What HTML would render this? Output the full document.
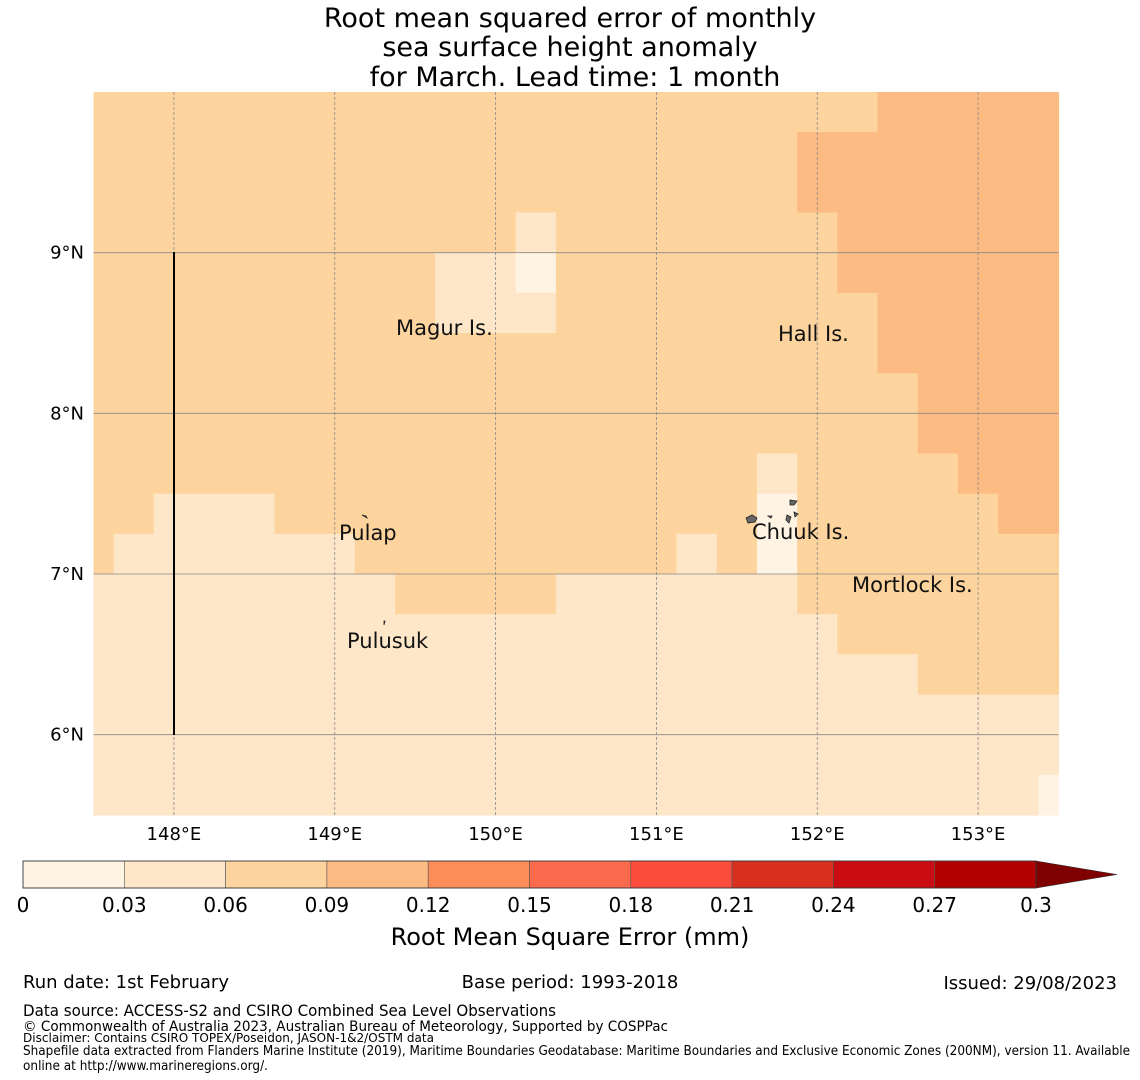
<!DOCTYPE html>
<html><head><meta charset="utf-8"><style>
html,body{margin:0;padding:0;background:#fff;}
svg{display:block;font-family:"DejaVu Sans","Liberation Sans",sans-serif;}
</style></head><body>
<svg id="chart" width="1140" height="1080" viewBox="0 0 1140 1080" xmlns="http://www.w3.org/2000/svg">
<g font-size="27" text-anchor="middle" fill="#000">
<text x="570" y="27">Root mean squared error of monthly</text>
<text x="570" y="56">sea surface height anomaly</text>
<text x="575" y="86">for March. Lead time: 1 month</text>
</g>
<g id="cells"></g>
<g id="grid"></g>
<line x1="174" y1="252" x2="174" y2="735" stroke="#000" stroke-width="2"/>
<g id="xticks" font-size="18" text-anchor="middle"></g>
<g id="yticks" font-size="18" text-anchor="end"></g>
<g font-size="21" fill="#111">
<text x="396" y="335">Magur Is.</text>
<text x="778" y="341">Hall Is.</text>
<text x="339" y="540">Pulap</text>
<text x="752" y="539">Chuuk Is.</text>
<text x="852" y="592">Mortlock Is.</text>
<text x="347" y="648">Pulusuk</text>
</g>
<g fill="#666" stroke="#222" stroke-width="0.8">
<path d="M746 518 l6 -3 l5 3 l-2 4 l-7 1 z"/><path d="M790 500 l7 1 l-3 4 l-4 0 z"/>
<path d="M768 516 l4 0 l-1 2 z"/><path d="M787 515 l4 2 l-2 6 l-3 -3 z"/><path d="M794 512 l4 2 l-3 3 z"/>
<path d="M362 515 l4 1 l1 2 z"/><path d="M384 621 l1 0 l-1 4 z"/>
</g>
<g id="cbar"></g>
<text x="570" y="945" font-size="24" text-anchor="middle">Root Mean Square Error (mm)</text>
<g fill="#000">
<text x="23" y="988" font-size="18">Run date: 1st February</text>
<text x="570" y="988" font-size="18" text-anchor="middle">Base period: 1993-2018</text>
<text x="1117" y="989" font-size="18" text-anchor="end">Issued: 29/08/2023</text>
<text x="23" y="1016" font-size="16" textLength="533" lengthAdjust="spacingAndGlyphs">Data source: ACCESS-S2 and CSIRO Combined Sea Level Observations</text>
<text x="23" y="1031" font-size="14" textLength="645" lengthAdjust="spacingAndGlyphs">© Commonwealth of Australia 2023, Australian Bureau of Meteorology, Supported by COSPPac</text>
<text x="23" y="1042" font-size="12" textLength="411" lengthAdjust="spacingAndGlyphs">Disclaimer: Contains CSIRO TOPEX/Poseidon, JASON-1&amp;2/OSTM data</text>
<text x="23" y="1055" font-size="13" textLength="1107" lengthAdjust="spacingAndGlyphs">Shapefile data extracted from Flanders Marine Institute (2019), Maritime Boundaries Geodatabase: Maritime Boundaries and Exclusive Economic Zones (200NM), version 11. Available</text>
<text x="23" y="1070" font-size="13" textLength="245" lengthAdjust="spacingAndGlyphs">online at http://www.marineregions.org/.</text>
</g>
</svg>
<script>
const lonTicks = [148,149,150,151,152,153];
const latTicks = [9,8,7,6];
const cbTicks = ["0","0.03","0.06","0.09","0.12","0.15","0.18","0.21","0.24","0.27","0.3"];
const levelColors = ["#fff3e3","#fee6c9","#fdd49e","#fdbb84","#fc8d59","#fc6a4d","#fc4c3c","#d7301f","#c90d12","#b30000"];
const overColor = "#7f0000";
// error level per cell; rows from 10N southward in 0.25deg steps, columns centered at 147.5 + 0.25*c
const levelRows = [
"2222222222222222222233333",
"2222222222222222223333333",
"2222222222222222223333333",
"2222222222212222222333333",
"2222222221102222222333333",
"2222222221112222222233333",
"2222222222222222222233333",
"2222222222222222222223333",
"2222222222222222222223333",
"2222222222222222212222333",
"2211122222222222202222233",
"2111111222222221202222222",
"1111111122221111112222222",
"1111111111111111111222222",
"1111111111111111111112222",
"1111111111111111111111111",
"1111111111111111111111111",
"1111111111111111111111110"];
const NS="http://www.w3.org/2000/svg";
const X0=93.5, X1=1058.5, Y0=92, Y1=815, LON0=147.5, LON1=153.5, LAT0=10, LAT1=5.5;
const xs = lon => X0 + (lon-LON0)/(LON1-LON0)*(X1-X0);
const ys = lat => Y0 + (LAT0-lat)/(LAT0-LAT1)*(Y1-Y0);
function mk(tag, attrs, parent){const e=document.createElementNS(NS,tag);for(const k in attrs)e.setAttribute(k,attrs[k]);parent.appendChild(e);return e;}
const cells=document.getElementById('cells');
levelRows.forEach((row,r)=>{
  for(let c=0;c<row.length;c++){
    const lv=+row[c];
    let l=Math.max(xs(LON0+0.25*c-0.125),X0), rr=Math.min(xs(LON0+0.25*c+0.125),X1);
    const t=ys(LAT0-0.25*r), b=ys(LAT0-0.25*(r+1));
    const el=mk('rect',{x:l,y:t,width:rr-l+0.6,height:b-t+0.6,fill:levelColors[lv]},cells);
    
    
  }
});
const grid=document.getElementById('grid'), xt=document.getElementById('xticks'), yt=document.getElementById('yticks');
lonTicks.forEach(lon=>{
  const x=xs(lon);
  const g=mk('line',{x1:x,y1:Y0,x2:x,y2:Y1,stroke:'#888',"stroke-width":0.8,"stroke-dasharray":"3,2"},grid);
  
  
  const t=mk('text',{x:x,y:840},xt); t.textContent=lon+"°E";
  
  
});
latTicks.forEach(lat=>{
  const y=ys(lat);
  const g=mk('line',{x1:X0,y1:y,x2:X1,y2:y,stroke:'#888',"stroke-width":0.8},grid);
  
  
  const t=mk('text',{x:84,y:y+6},yt); t.textContent=lat+"°N";
  
  
});
const cb=document.getElementById('cbar');
const CB0=23, CB1=1036, CBT=861, CBB=888, seg=(CB1-CB0)/levelColors.length;
levelColors.forEach((col,i)=>{
  const r=mk('rect',{x:CB0+i*seg,y:CBT,width:seg,height:CBB-CBT,fill:col,stroke:'#555',"stroke-width":0.6},cb);
  
  
});
const tri=mk('polygon',{points:`${CB1},${CBT} ${CB1+81},${(CBT+CBB)/2} ${CB1},${CBB}`,fill:overColor,stroke:'#333',"stroke-width":0.6},cb);


const fr=mk('rect',{x:CB0,y:CBT,width:CB1-CB0,height:CBB-CBT,fill:'none',stroke:'#333',"stroke-width":0.8},cb);


cbTicks.forEach((lab,i)=>{
  const t=mk('text',{x:CB0+i*seg,y:912,"font-size":20,"text-anchor":"middle"},cb); t.textContent=lab;
  
  
});
</script>
</body></html>
